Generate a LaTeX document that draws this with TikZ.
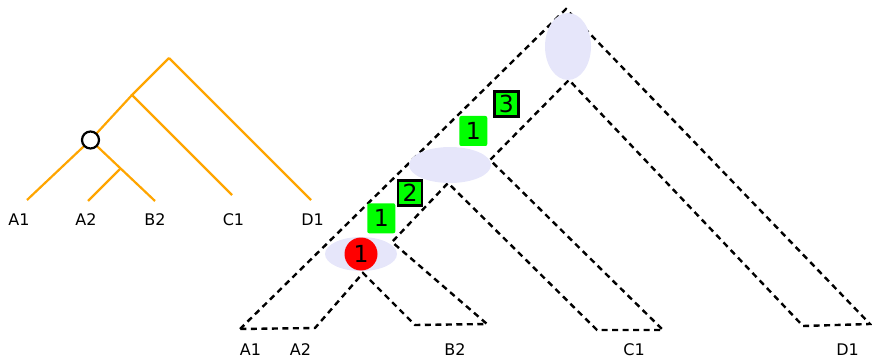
\documentclass[tikz,border=0pt]{standalone}
\usepackage{fontspec}
\setmainfont{DejaVu Sans}
\usetikzlibrary{shapes.geometric}
\definecolor{treeorange}{RGB}{255,165,0}
\definecolor{hazel}{RGB}{230,230,250}
\definecolor{evgreen}{RGB}{0,255,0}
\begin{document}
\begin{tikzpicture}[x=1pt,y=-1pt,
  gene/.style={treeorange,line width=2.2pt},
  tube/.style={black,line width=2.4pt,dash pattern=on 6pt off 4.5pt,line join=miter},
  leaflabel/.style={anchor=base,inner sep=0pt,font=\fontsize{16}{18}\selectfont},
  blob/.style={ellipse,fill=hazel,inner sep=0pt},
  evbox/.style={fill=evgreen,rounded corners=2pt,minimum width=28pt,minimum height=30pt,inner sep=0pt,font=\fontsize{23.5}{24}\selectfont},
  dupbox/.style={fill=evgreen,draw=black,line width=2.6pt,minimum width=24pt,minimum height=25pt,inner sep=0pt,font=\fontsize{23.5}{24}\selectfont},
  lossdot/.style={circle,fill=red,minimum size=33pt,inner sep=0pt,font=\fontsize{23.5}{24}\selectfont},
  dupnode/.style={circle,draw=black,fill=white,line width=2.2pt,minimum size=17pt,inner sep=0pt},
]
\useasboundingbox (0,0) rectangle (872,358);

% ---- gene tree (left) ----
\coordinate (groot) at (169,58);
\coordinate (gn1) at (132,95);
\coordinate (gsub) at (121,168);
\coordinate (gA1) at (27,200);
\coordinate (gA2) at (88,201);
\coordinate (gB2) at (155,201);
\coordinate (gC1) at (232,195);
\coordinate (gD1) at (311,200);
\coordinate (gdupc) at (90.5,140);
\draw[gene] (groot) -- (gD1);
\draw[gene] (groot) -- (gn1) -- (gC1);
\draw[gene] (gn1) -- (gdupc);
\draw[gene] (gdupc) -- (gA1);
\draw[gene] (gdupc) -- (gB2);
\draw[gene] (gsub) -- (gA2);
\node[dupnode] (gdup) at (gdupc) {};

\node[leaflabel] (lA1) at (19,225.5) {A1};
\node[leaflabel] (lA2) at (86,225.5) {A2};
\node[leaflabel] (lB2) at (155,225.5) {B2};
\node[leaflabel] (lC1) at (233.5,225.5) {C1};
\node[leaflabel] (lD1) at (312.5,225.5) {D1};

% ---- species tree as a tube (right) ----
\coordinate (ta1) at (240,329);
\coordinate (ta2) at (315,328);
\coordinate (tja) at (363,273);
\coordinate (tb1) at (415,325);
\coordinate (tb2) at (487,324);
\coordinate (tcb) at (392,242);
\coordinate (tjab) at (448,183);
\coordinate (tc1) at (597,330);
\coordinate (tc2) at (663,330);
\coordinate (tcc) at (490,160);
\coordinate (tjabc) at (569,80);
\coordinate (td1) at (803,326);
\coordinate (td2) at (870,324);
\coordinate (ttop) at (566,9);

\draw[tube] (ta1) -- (ttop) -- (td2) -- (td1) -- (tjabc) -- (tcc) -- (tc2)
  -- (tc1) -- (tjab) -- (tcb) -- (tb2) -- (tb1) -- (tja) -- (ta2) -- cycle;

% mapped ancestral nodes
\node[blob,minimum width=72pt,minimum height=34pt] (sAB0) at (361,254) {};
\node[blob,minimum width=82pt,minimum height=36pt] (sAB) at (450,165) {};
\node[blob,minimum width=46pt,minimum height=67pt] (sROOT) at (568,46.5) {};

% events
\node[lossdot] (ev0) at (361,254) {1};
\node[evbox] (ev1) at (381.3,218.3) {1};
\node[dupbox] (ev2) at (410,193) {2};
\node[evbox] (ev3) at (473.3,131) {1};
\node[dupbox] (ev4) at (506.3,104) {3};

\node[leaflabel] (rA1) at (250.5,355) {A1};
\node[leaflabel] (rA2) at (300.5,355) {A2};
\node[leaflabel] (rB2) at (455,355) {B2};
\node[leaflabel] (rC1) at (634,355) {C1};
\node[leaflabel] (rD1) at (847.5,355) {D1};
\end{tikzpicture}
\end{document}
